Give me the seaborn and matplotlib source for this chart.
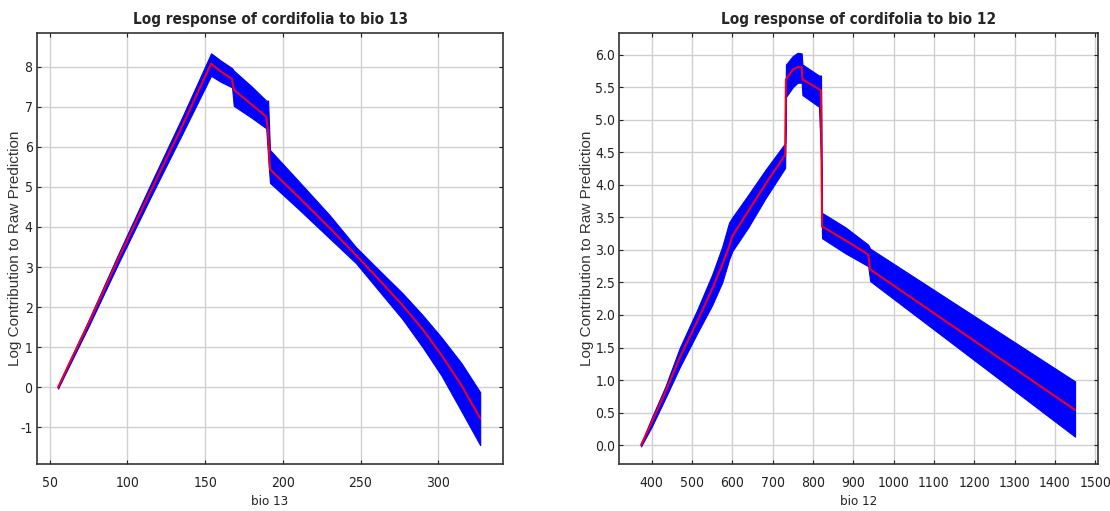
import numpy as np
import matplotlib
matplotlib.use("Agg")
import matplotlib.pyplot as plt
import seaborn as sns

sns.set_theme(style="white")
plt.rcParams["font.family"] = ["DejaVu Sans"]
plt.rcParams["font.stretch"] = "condensed"

# ---- bio 13 response (x, mean, lower, upper) ----
bio13_x = [55.3, 62, 75, 94, 115, 135, 153.8, 160, 167.3, 168.4, 180, 189.3, 190.5,
           191.7, 210, 230, 247, 262, 277, 290, 302, 315, 327]
bio13_mean = [0.0, 0.55, 1.6, 3.2, 4.9, 6.5, 8.07, 7.88, 7.69, 7.42, 7.05, 6.75, 6.38,
              5.44, 4.75, 3.98, 3.3, 2.68, 2.05, 1.45, 0.81, 0.05, -0.77]
bio13_lower = [-0.03, 0.5, 1.52, 3.08, 4.75, 6.3, 7.77, 7.62, 7.48, 7.02, 6.72, 6.46, 5.75,
               5.1, 4.45, 3.72, 3.1, 2.4, 1.7, 1.0, 0.3, -0.6, -1.44]
bio13_upper = [0.03, 0.6, 1.68, 3.32, 5.08, 6.72, 8.33, 8.15, 7.96, 7.9, 7.5, 7.15, 7.15,
               5.92, 5.15, 4.3, 3.5, 2.92, 2.35, 1.8, 1.25, 0.6, -0.12]

# ---- bio 12 response (x, mean, lower, upper) ----
bio12_x = [373.7, 400, 434, 470, 513, 550, 575, 592, 600, 640, 681, 731, 733, 750, 762,
           772, 774, 815, 820, 822.5, 880, 937, 942, 1450]
bio12_mean = [0.0, 0.35, 0.82, 1.35, 1.9, 2.4, 2.77, 3.05, 3.21, 3.6, 4.0, 4.46, 5.62, 5.77,
              5.81, 5.81, 5.62, 5.47, 5.45, 3.36, 3.15, 2.93, 2.7, 0.54]
bio12_lower = [-0.02, 0.28, 0.72, 1.2, 1.72, 2.15, 2.5, 2.85, 2.98, 3.35, 3.78, 4.26, 5.35,
               5.5, 5.57, 5.57, 5.38, 5.2, 4.39, 3.18, 2.95, 2.75, 2.52, 0.13]
bio12_upper = [0.02, 0.42, 0.9, 1.5, 2.08, 2.62, 3.05, 3.42, 3.5, 3.85, 4.22, 4.64, 5.85,
               5.98, 6.03, 6.02, 5.85, 5.68, 5.68, 3.57, 3.35, 3.08, 3.02, 0.98]

panels = [
    dict(x=bio13_x, mean=bio13_mean, lo=bio13_lower, hi=bio13_upper,
         title="Log response of cordifolia to bio 13", xlabel="bio 13",
         xlim=(41.6, 342), ylim=(-1.91, 8.83),
         xticks=np.arange(50, 301, 50), yticks=np.arange(-1, 9, 1), yfmt="{:.0f}",
         rect=[0.0331, 0.092, 0.4205, 0.8429], ylab_x=-0.031),
    dict(x=bio12_x, mean=bio12_mean, lo=bio12_lower, hi=bio12_upper,
         title="Log response of cordifolia to bio 12", xlabel="bio 12",
         xlim=(320, 1508), ylim=(-0.29, 6.33),
         xticks=np.arange(400, 1501, 100), yticks=np.arange(0, 6.01, 0.5), yfmt="{:.1f}",
         rect=[0.558, 0.092, 0.4316, 0.8429], ylab_x=-0.054),
]

fig = plt.figure(figsize=(11.10, 5.11), dpi=100)

for p in panels:
    ax = fig.add_axes(p["rect"])
    ax.fill_between(p["x"], p["lo"], p["hi"], color="#0000ff", lw=0.8,
                    edgecolor="#0000ff", zorder=2)
    sns.lineplot(x=p["x"], y=p["mean"], estimator=None, sort=False,
                 color="#ee0022", lw=1.5, ax=ax, zorder=3)

    ax.set_xlim(*p["xlim"])
    ax.set_ylim(*p["ylim"])
    ax.set_xticks(p["xticks"])
    ax.set_yticks(p["yticks"])
    ax.set_yticklabels([p["yfmt"].format(v) for v in p["yticks"]])

    ax.grid(True, color="#d0d0d0", lw=1.0, zorder=0)
    ax.set_axisbelow(True)
    for s in ax.spines.values():
        s.set_color("#333333")
        s.set_linewidth(1.2)
    ax.tick_params(direction="in", length=3, width=0.8, color="#222222",
                   top=True, right=True, bottom=True, left=True,
                   labelsize=10, labelcolor="#222222")
    ax.tick_params(axis="x", pad=9)
    ax.tick_params(axis="y", pad=3)

    ax.set_title(p["title"], fontsize=11, fontweight="bold", pad=7)
    ax.set_xlabel(p["xlabel"], fontsize=9.5, labelpad=3, color="#222222")
    ax.set_ylabel("Log Contribution to Raw Prediction", fontsize=11,
                  family=["Liberation Sans", "DejaVu Sans"], stretch="normal",
                  color="#333333")
    ax.yaxis.set_label_coords(p["ylab_x"], 0.5)

fig.savefig("out.png", dpi=100, facecolor="white")
